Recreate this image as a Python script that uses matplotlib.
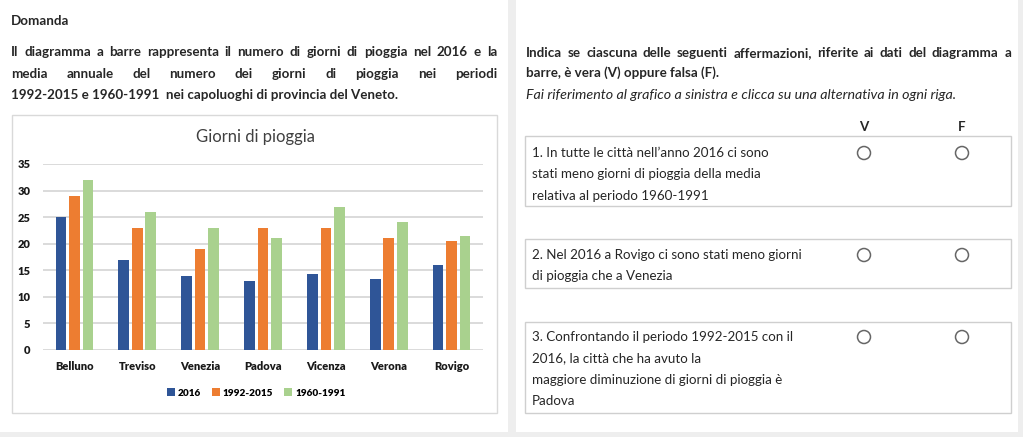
import matplotlib
matplotlib.use("Agg")
import matplotlib.pyplot as plt
import numpy as np
from matplotlib.patches import Rectangle, Circle

# data
cities = ["Belluno", "Treviso", "Venezia", "Padova", "Vicenza", "Verona", "Rovigo"]
series = ["2016", "1992-2015", "1960-1991"]
v2016 = [25, 17, 14, 13, 14.3, 13.4, 16]
v1992 = [29, 23, 19, 23, 23, 21, 20.5]
v1960 = [32, 26, 23, 21, 27, 24, 21.5]
yticks = [0, 5, 10, 15, 20, 25, 30, 35]
colors = ["#2F5597", "#ED7D31", "#A9D18E"]

W, H = 1023, 437
dpi = 100.0
plt.rcParams['font.family'] = ['Lato', 'DejaVu Sans']
txt = "#262626"

fig = plt.figure(figsize=(W / dpi, H / dpi), dpi=dpi, facecolor="#eeeeee")
bg = fig.add_axes([0, 0, 1, 1], frameon=False)
bg.set_xlim(0, W)
bg.set_ylim(H, 0)
bg.set_xticks([]), bg.set_yticks([])

# panels
bg.add_patch(Rectangle((0, 0), 508, 432, fc="white", ec="none"))
bg.add_patch(Rectangle((516, 0), 502, 432, fc="white", ec="none"))
# chart box
bg.add_patch(Rectangle((12, 115), 485, 298, fc="white", ec="#d9d9d9", lw=1))
# question boxes
for y0, y1 in [(136, 206), (239, 288), (322, 413)]:
    bg.add_patch(Rectangle((525, y0), 486, y1 - y0, fc="white", ec="#cfcfcf", lw=1))

renderer = fig.canvas.get_renderer()


def justify(words, x0, x1, y, **kw):
    ts = [bg.text(0, y, w, va="center", ha="left", **kw) for w in words]
    ws = [t.get_window_extent(renderer).width for t in ts]
    gap = (x1 - x0 - sum(ws)) / (len(words) - 1)
    x = x0
    for t, w in zip(ts, ws):
        t.set_x(x)
        x += w + gap


fs = 9.6
bg.text(11, 21, "Domanda", fontsize=fs, fontweight="bold", color=txt, va="center")
justify("Il diagramma a barre rappresenta il numero di giorni di pioggia nel 2016 e la".split(),
        11, 497, 52, fontsize=fs, fontweight="bold", color=txt)
justify("media annuale del numero dei giorni di pioggia nei periodi".split(),
        11, 497, 74, fontsize=fs, fontweight="bold", color=txt)
bg.text(11, 95, "1992-2015 e 1960-1991  nei capoluoghi di provincia del Veneto.",
        fontsize=fs, fontweight="bold", color=txt, va="center")

justify("Indica se ciascuna delle seguenti affermazioni, riferite ai dati del diagramma a".split(),
        526, 1011, 53, fontsize=fs, fontweight="bold", color=txt)
bg.text(526, 73, "barre, è vera (V) oppure falsa (F).", fontsize=fs, fontweight="bold",
        color=txt, va="center")
bg.text(526, 95, "Fai riferimento al grafico a sinistra e clicca su una alternativa in ogni riga.",
        fontsize=10.3, style="italic", color=txt, va="center")

bg.text(864, 127, "V", fontsize=fs, fontweight="bold", color=txt, ha="center", va="center")
bg.text(962, 127, "F", fontsize=fs, fontweight="bold", color=txt, ha="center", va="center")

items = [
    (["1. In tutte le città nell’anno 2016 ci sono",
      "stati meno giorni di pioggia della media",
      "relativa al periodo 1960-1991"], 153),
    (["2. Nel 2016 a Rovigo ci sono stati meno giorni",
      "di pioggia che a Venezia"], 255),
    (["3. Confrontando il periodo 1992-2015 con il",
      "2016, la città che ha avuto la",
      "maggiore diminuzione di giorni di pioggia è",
      "Padova"], 337),
]
for lines, y in items:
    for i, line in enumerate(lines):
        bg.text(532, y + i * 21.3, line, fontsize=fs, color=txt, va="center")
    for cx in (864, 962):
        bg.add_patch(Circle((cx, y), 6.5, fc="white", ec="#666666", lw=1.1))

# chart
ax = fig.add_axes([43 / W, (H - 350) / H, 440 / W, 186 / H])
ax.set_facecolor("white")
x = np.arange(len(cities))
bw, step = 0.17, 0.215
bars = []
for k, vals in enumerate([v2016, v1992, v1960]):
    bars.append(ax.bar(x + (k - 1) * step, vals, bw, color=colors[k], zorder=3, label=series[k]))
ax.set_xlim(-0.5, len(cities) - 0.5)
ax.set_ylim(0, 35)
ax.set_yticks(yticks)
ax.set_xticks(x)
ax.set_xticklabels(cities)
for s in ax.spines.values():
    s.set_visible(False)
ax.grid(axis="y", color="#d4d4d4", lw=1.2, zorder=0)
ax.tick_params(length=0, labelsize=8, colors="#1a1a1a")
ax.tick_params(axis="y", pad=9)
ax.tick_params(axis="x", pad=8)
for lab in ax.get_xticklabels() + ax.get_yticklabels():
    lab.set_fontweight("heavy")

bg.text(255, 137, "Giorni di pioggia", fontsize=12, color="#404040", ha="center", va="center")

fig.legend(handles=bars, labels=series, loc="center", bbox_to_anchor=(256 / W, 1 - 393 / H),
           ncol=3, frameon=False, handlelength=0.8, handleheight=0.8, handletextpad=0.3,
           columnspacing=1.1, prop={"size": 7.2, "weight": "heavy"})

fig.savefig("out.png", dpi=dpi, facecolor=fig.get_facecolor())
